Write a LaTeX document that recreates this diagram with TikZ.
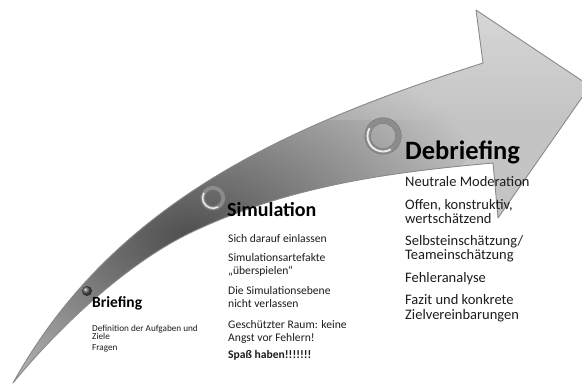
\documentclass[tikz,border=0pt]{standalone}
\usepackage{fontspec}
\setmainfont{Carlito}
\definecolor{arrowbase}{HTML}{C4C4C4}
\definecolor{arrowdark}{HTML}{4E4E4E}
\definecolor{arrowline}{HTML}{8A8A8A}
\definecolor{ringdark}{HTML}{8C8C8C}
\definecolor{ringlight}{HTML}{EEEEEE}
\definecolor{txtcol}{HTML}{1C1C1C}
\begin{document}
\begin{tikzpicture}[x=1pt,y=-1pt,
  txt/.style={anchor=base west, inner sep=0pt, text=txtcol},
  ttl/.style={anchor=base west, inner sep=0pt, text=black, font=\bfseries},
  bsmall/.style={txt, font=\fontsize{9.2}{9.2}\selectfont},
  smid/.style={txt, font=\fontsize{11.6}{11.6}\selectfont},
  dbig/.style={txt, font=\fontsize{14.5}{14.5}\selectfont}]
\useasboundingbox (0,0) rectangle (582,387);
\clip (0,0) rectangle (582,387);
\def\arrowpath{(13,383) .. controls (113,203) and (283,127) .. (483,63) -- (476,10) -- (590,86) -- (498,218) -- (493,163) .. controls (393,172) and (290,185) .. (190,233) .. controls (130,262) and (63,322) .. (13,383) -- cycle}
% arrow body
\begin{scope}
  \clip \arrowpath;
  \fill[arrowbase] (0,0) rectangle (600,400);
  \begin{scope}[shift={(190,238)}, rotate=28]
    \shade[inner color=arrowdark, outer color=arrowbase] (0,0) ellipse (330 and 115);
  \end{scope}
  \shade[top color=white, bottom color=arrowbase, opacity=0.35] (0,0) rectangle (600,120);
\end{scope}
\draw[arrowline, line width=0.9pt, line join=round] \arrowpath;
% bullets
\shade[ball color=gray!65!black] (87,291) circle (5);
\draw[ringdark, line width=4pt] (213,198) circle (10.3);
\draw[ringlight, line width=1.4pt] (213,198) ++(60:10.3) arc (60:210:10.3);
\draw[black!55, line width=0.4pt] (213,198) circle (12.4) (213,198) circle (8.2);
\draw[ringdark, line width=5.5pt] (383,136) circle (15.5);
\draw[ringlight, line width=1.8pt] (383,136) ++(60:15.5) arc (60:210:15.5);
\draw[black!55, line width=0.4pt] (383,136) circle (18.3) (383,136) circle (12.7);
% Briefing
\node[ttl, font=\bfseries\fontsize{15.5}{15.5}\selectfont] (brief) at (92,308) {Briefing};
\node[bsmall] (b1) at (92,331.5) {Definition der Aufgaben und};
\node[bsmall] (b2) at (92,339.5) {Ziele};
\node[bsmall] (b3) at (92,351) {Fragen};
% Simulation
\node[ttl, font=\bfseries\fontsize{20}{20}\selectfont] (sim) at (227,217) {Simulation};
\node[smid] (s1) at (228,243) {Sich darauf einlassen};
\node[smid] (s2) at (228,261.5) {Simulationsartefakte};
\node[smid] (s3) at (228,274.5) {„überspielen“};
\node[smid] (s4) at (228,295) {Die Simulationsebene};
\node[smid] (s5) at (228,308) {nicht verlassen};
\node[smid] (s6) at (228,329) {Geschützter Raum: keine};
\node[smid] (s7) at (228,342) {Angst vor Fehlern!};
\node[smid, font=\bfseries\fontsize{11.6}{11.6}\selectfont] (s8) at (228,359) {Spaß haben!!!!!!!};
% Debriefing
\node[ttl, font=\bfseries\fontsize{26.5}{26.5}\selectfont] (debrief) at (405,160) {Debriefing};
\node[dbig] (d1) at (405,186.5) {Neutrale Moderation};
\node[dbig] (d2) at (405,209.5) {Offen, konstruktiv,};
\node[dbig] (d3) at (405,224) {wertschätzend};
\node[dbig] (d4) at (405,245.5) {Selbsteinschätzung/};
\node[dbig] (d5) at (405,260) {Teameinschätzung};
\node[dbig] (d6) at (405,283) {Fehleranalyse};
\node[dbig] (d7) at (405,305) {Fazit und konkrete};
\node[dbig] (d8) at (405,319.5) {Zielvereinbarungen};
\end{tikzpicture}
\end{document}
